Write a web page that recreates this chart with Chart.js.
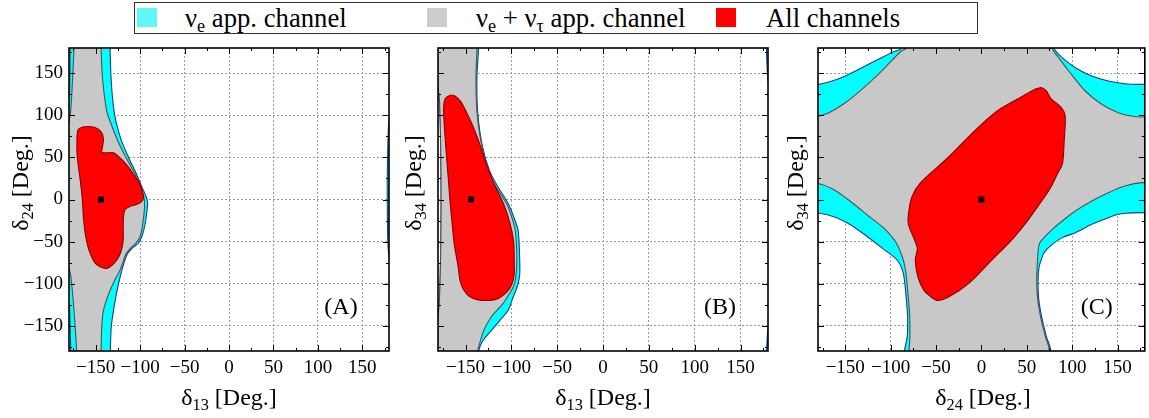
<!DOCTYPE html>
<html>
<head>
<meta charset="utf-8">
<script src="https://cdn.jsdelivr.net/npm/chart.js@4.4.1/dist/chart.umd.min.js"></script>
<style>
  html, body { margin: 0; padding: 0; background: #fff; }
  body { width: 1149px; height: 418px; position: relative; overflow: hidden;
         font-family: 'Liberation Serif', 'Times New Roman', serif; color: #000; }
  canvas { position: absolute; top: 0; }
  sub { font-size: 0.68em; vertical-align: baseline; position: relative; top: 0.3em; line-height: 0; }
  .legend { position: absolute; left: 134px; top: 2px; width: 842px; height: 30px; border: 1.5px solid #333; }
  .sw { position: absolute; top: 8px; width: 20px; height: 19px; }
  .lt { position: absolute; top: 5px; font-size: 26.7px; line-height: 26px; white-space: nowrap; }
  .xt { position: absolute; top: 385px; width: 200px; text-align: center; font-size: 24px; line-height: 24px; white-space: nowrap; }
  .yt { position: absolute; top: 171px; width: 200px; height: 24px; text-align: center; font-size: 24px; line-height: 24px;
        white-space: nowrap; transform: rotate(-90deg); }
</style>
</head>
<body>
<div class="legend"></div>
<div class="sw" style="left:137px;background:#5ff8f8"></div>
<div class="lt" style="left:185px">ν<sub>e</sub> app. channel</div>
<div class="sw" style="left:427px;background:#cccccc"></div>
<div class="lt" style="left:476px">ν<sub>e</sub> + ν<sub>τ</sub> app. channel</div>
<div class="sw" style="left:716px;background:#ff0000"></div>
<div class="lt" style="left:766px">All channels</div>

<canvas id="pA" width="400" height="418" style="left:0px"></canvas>
<canvas id="pB" width="380" height="418" style="left:400px"></canvas>
<canvas id="pC" width="369" height="418" style="left:780px"></canvas>

<div class="xt" style="left:129px">δ<sub>13</sub> [Deg.]</div>
<div class="xt" style="left:503px">δ<sub>13</sub> [Deg.]</div>
<div class="xt" style="left:883px">δ<sub>24</sub> [Deg.]</div>
<div class="yt" style="left:-80px">δ<sub>24</sub> [Deg.]</div>
<div class="yt" style="left:313px">δ<sub>34</sub> [Deg.]</div>
<div class="yt" style="left:695px">δ<sub>34</sub> [Deg.]</div>

<script>
// axis ticks (degrees)
const majorTicks = [-150, -100, -50, 0, 50, 100, 150];
const minorTicks = [-175, -125, -75, -25, 25, 75, 125, 175];

// (A) delta13 vs delta24
const aCyan = [[-134,200],[-133.8,180],[-132.7,145],[-130,110],[-127,92],[-121,70],[-113,50],[-104,30],[-98,15],[-93,3],
  [-91.5,-5],[-92.5,-15],[-94.5,-30],[-98,-44],[-102,-52],[-108,-57],[-114,-64],[-118,-75],[-122,-90],[-126.3,-110],
  [-130,-132],[-132.5,-152],[-133.5,-180],[-134,-200],
  [-178,-200],[-178,-180],[-178.8,-150],[-179.6,-125],[-183,-100],[-186,0],[-183,100],[-179.6,125],[-179,150],[-178.8,180],[-178.8,200]];
const aCyanWrap = [[182,110],[179.6,90],[178.4,50],[178,15],[178.3,-30],[179.2,-60],[182,-78]];
const aGray = [[-144,200],[-143.9,180],[-142.4,145],[-137.5,105],[-132,88],[-124.4,68],[-115,48],[-105.6,30],[-99,14],[-95.8,3],
  [-95,-8],[-96,-20],[-97.5,-32],[-100,-44],[-104,-51],[-110,-57],[-115.5,-64],[-119.5,-75],[-123,-85],[-128.2,-95],
  [-135.7,-113],[-141.3,-132],[-143.2,-152],[-143.9,-180],[-144,-200],
  [-171.4,-200],[-171.4,-180],[-174.4,-132],[-177.7,-93],[-181,-75],[-184,0],[-181,85],[-178.1,105],[-175.9,145],[-174.4,180],[-174.4,200]];
const aRed = [[-171,76],[-169.5,83.4],[-162,86.5],[-150.7,85.5],[-144,80.6],[-141.3,72],[-142.4,62],[-143,56],[-136,55.5],
  [-130,55.5],[-124,51],[-118.8,45.7],[-112,37],[-107,29],[-101,20],[-97.5,10],[-96.2,2],[-99,-3],[-104,-6],[-112,-8.5],
  [-117,-12],[-118.8,-22],[-119,-35],[-119,-48],[-121,-60],[-125,-70],[-131,-77.5],[-138,-82],[-145,-80],[-151,-75],
  [-157,-62],[-161,-45],[-163.5,-25],[-165,0],[-167,20],[-169.5,40],[-171,55]];
const aBest = [-144, 0];

// (B) delta13 vs delta34
const bCyan = [[-135.7,200],[-135.7,180],[-137.5,145],[-136.8,105],[-132,65.5],[-123.7,34],[-114,14],[-103,-5.7],[-95.8,-25.5],
  [-92.6,-36.6],[-91.2,-60],[-90.8,-88],[-92.6,-100],[-95,-108],[-98,-115.8],[-103.5,-131.6],[-112.5,-143.5],[-121.6,-155.4],
  [-130.7,-167.3],[-135.7,-180],[-136,-200],
  [-186,-200],[-181,-150],[-178.5,-120],[-177,-60],[-176.6,0],[-177,60],[-178.5,120],[-181,140],[-186,200]];
const bCyanWrapTop = [[182,200],[178.6,180],[178.9,160],[179.7,145],[182,130]];
const bCyanWrapBottom = [[182,-140],[179.7,-157],[178.9,-170],[178.6,-180],[182,-200]];
const bGray = [[-137.5,200],[-137.5,180],[-138.6,145],[-137.5,105],[-133.9,73.5],[-128.5,45.7],[-123,25.9],[-113.9,10.1],
  [-104.9,-5.7],[-99.4,-21.6],[-96,-35],[-94.7,-50],[-94,-65],[-94.5,-85],[-96.5,-100],[-100,-108],[-104.5,-116],
  [-109,-123.7],[-116,-132],[-122,-139.6],[-130,-155.4],[-134.6,-171.2],[-136.5,-180],[-136.8,-200],
  [-186,-200],[-181,-150],[-178.5,-120],[-177,-60],[-176.6,0],[-177,60],[-178.5,120],[-181,140],[-186,200]];
const bRed = [[-166.6,124],[-161.5,123],[-155,116],[-146,97],[-140,82],[-134.5,66],[-126.6,40],[-117.6,16],[-108.5,-5],
  [-101.5,-28],[-97.5,-50],[-96.8,-75],[-97,-90],[-99.5,-101],[-105,-110],[-114,-117.5],[-125,-120],[-137,-119],
  [-146,-115],[-152.2,-107],[-156,-96],[-158,-80],[-162,-55],[-164.5,-30],[-167,0],[-169.5,35],[-172,70],[-173.9,108],[-172,120]];
const bBest = [-144, 0];

// (C) delta24 vs delta34
const cCyan = [[-88.2,200],[-88.2,180],[-99.1,174.5],[-113.6,166.5],[-131.7,156.6],[-149.9,146.7],[-164.4,140.8],[-180,136.8],[-200,136.8],
  [-200,-16],[-180,-16],[-161.5,-20.8],[-143.4,-30.6],[-125.2,-44.5],[-107,-59.5],[-92.6,-72.2],[-86,-88],[-83.3,-111.8],
  [-81.3,-139.6],[-81.8,-163.4],[-85,-181],[-85.5,-200],
  [76,-200],[76,-177],[72,-164],[66.5,-140],[63,-116.6],[62.5,-92.9],[63.6,-80],[65.4,-73.1],[69,-63.2],[78.1,-53.3],
  [89,-45.3],[103.5,-39.4],[121.6,-29.5],[139.8,-21.6],[150.7,-17.6],[157.9,-16.4],[176.1,-15.6],[200,-15.6],
  [200,136.8],[176.1,136.8],[157.9,137.6],[139.8,140.8],[121.6,146.7],[103.5,156.6],[89,168.5],[80,180],[80,200]];
const cGray = [[-82.7,200],[-82.7,180],[-88.2,176.4],[-99.1,164.6],[-113.6,148.7],[-131.7,130.9],[-149.9,115],[-168,103.2],[-180,99.2],[-200,99.2],
  [-200,19],[-180,19],[-161.5,11],[-143.4,-3],[-125.2,-18.8],[-107,-34.6],[-94.4,-50.5],[-87.1,-68.3],[-83.5,-84.1],
  [-80.9,-111.8],[-78.9,-139.6],[-78.9,-167.3],[-79.8,-181],[-80,-200],
  [74.5,-200],[74.5,-176.8],[70.8,-164.2],[65.4,-140.4],[61.8,-116.6],[61,-92.9],[61.8,-73.1],[63.6,-53.3],[69,-45.3],
  [78.1,-35.4],[89,-25.5],[103.5,-13.7],[121.6,-1.8],[139.8,8.1],[157.9,16],[176.1,20],[200,20.5],
  [200,98],[176.1,98],[165.2,99.2],[150.7,103.2],[132.5,113.1],[114.4,128.9],[96.2,152.7],[86,167],[78,180],[78,200]];
const cRed = [[65.7,133],[71.1,129.7],[76.6,119.9],[87.5,109.9],[92.2,100],[91.2,70.3],[89.3,42.6],[83.9,30.8],[76.6,14.9],
  [65.7,-3],[51.2,-24.7],[33,-48.5],[11.2,-72.2],[-14.2,-99.9],[-36.1,-115.8],[-48.7,-119.8],[-57.7,-113.8],[-63.5,-107.9],
  [-69.9,-92.1],[-72.8,-72.2],[-70.6,-58.3],[-73.5,-48.5],[-80.3,-30],[-80.3,-16.8],[-76.6,3],[-67,20],[-36.1,50.5],
  [-6.9,82.2],[18.5,106],[43.9,121.8],[58.5,130.6]];
const cBest = [0, 0];

const SERIF = '"Liberation Serif", "Times New Roman", serif';
const CYAN = '#00ffff', CYAN_LINE = '#1a3f86';
const GRAY = '#c8c8c8', GRAY_LINE = '#505050';
const RED = '#ff0000', RED_LINE = '#8a0000';

Chart.defaults.font.family = SERIF;
Chart.defaults.color = '#000';

const region = (pts, bg, line, order) => {
  const data = pts.map(([x, y]) => ({x, y}));
  data.push(data[0]);
  return { data, showLine: true, fill: 'shape', backgroundColor: bg, borderColor: line,
           borderWidth: 1.1, pointRadius: 0, tension: 0.3, order };
};
const best = ([x, y]) => ({ data: [{x, y}], pointStyle: 'rect', pointRadius: 4.2,
  backgroundColor: '#000', borderColor: '#000', borderWidth: 0, order: 0 });
const fmt = v => v < 0 ? '\u2212' + Math.abs(v) : String(v);

const frame = {
  id: 'frame',
  afterDatasetsDraw(chart, args, opts) {
    const {ctx, chartArea: a, scales: {x, y}} = chart;
    ctx.save();
    ctx.strokeStyle = '#000';
    ctx.lineWidth = 1;
    ctx.beginPath();
    const mark = (vals, len) => vals.forEach(v => {
      const px = Math.round(x.getPixelForValue(v)) + 0.5;
      const py = Math.round(y.getPixelForValue(v)) + 0.5;
      ctx.moveTo(px, a.top); ctx.lineTo(px, a.top + len);
      ctx.moveTo(px, a.bottom); ctx.lineTo(px, a.bottom - len);
      ctx.moveTo(a.left, py); ctx.lineTo(a.left + len, py);
      ctx.moveTo(a.right, py); ctx.lineTo(a.right - len, py);
    });
    mark(majorTicks, 6);
    mark(minorTicks, 3);
    ctx.stroke();
    ctx.lineWidth = 1.6;
    ctx.strokeRect(a.left, a.top, a.right - a.left, a.bottom - a.top);
    ctx.fillStyle = '#000';
    ctx.font = '24px ' + SERIF;
    ctx.textAlign = 'center';
    ctx.textBaseline = 'alphabetic';
    ctx.fillText(opts.label, a.right - 48, a.bottom - 37);
    ctx.restore();
  }
};

function panel(id, datasets, label, yWidth, padRight, showY) {
  const axis = (extra) => Object.assign({
    type: 'linear', min: -180, max: 180,
    afterBuildTicks: s => { s.ticks = majorTicks.map(v => ({value: v})); },
    grid: { color: '#9c9c9c', lineWidth: 1, drawTicks: false },
    border: { display: false, dash: [2, 2] },
    ticks: { color: '#000', padding: 6, font: { family: SERIF, size: 19 }, callback: fmt }
  }, extra);
  const yAxis = axis({ position: 'left', afterFit: s => { s.width = yWidth; } });
  yAxis.ticks = Object.assign({}, yAxis.ticks, { display: showY });
  return new Chart(document.getElementById(id), {
    type: 'scatter',
    data: { datasets },
    plugins: [frame],
    options: {
      responsive: false,
      animation: false,
      devicePixelRatio: 1,
      layout: { padding: { left: 0, right: padRight, top: 48, bottom: 0 } },
      elements: { line: { capBezierPoints: false } },
      plugins: { legend: { display: false }, tooltip: { enabled: false }, frame: { label } },
      scales: {
        x: axis({ position: 'bottom', afterFit: s => { s.height = 67; } }),
        y: yAxis
      }
    }
  });
}

panel('pA', [best(aBest), region(aRed, RED, RED_LINE, 1), region(aGray, GRAY, GRAY_LINE, 2),
  region(aCyan, CYAN, CYAN_LINE, 3), region(aCyanWrap, CYAN, CYAN_LINE, 3)], '(A)', 69, 11, true);
panel('pB', [best(bBest), region(bRed, RED, RED_LINE, 1), region(bGray, GRAY, GRAY_LINE, 2),
  region(bCyan, CYAN, CYAN_LINE, 3), region(bCyanWrapTop, CYAN, CYAN_LINE, 3),
  region(bCyanWrapBottom, CYAN, CYAN_LINE, 3)], '(B)', 38, 12, false);
panel('pC', [best(cBest), region(cRed, RED, RED_LINE, 1), region(cGray, GRAY, GRAY_LINE, 2),
  region(cCyan, CYAN, CYAN_LINE, 3)], '(C)', 38, 1, false);
</script>
</body>
</html>
